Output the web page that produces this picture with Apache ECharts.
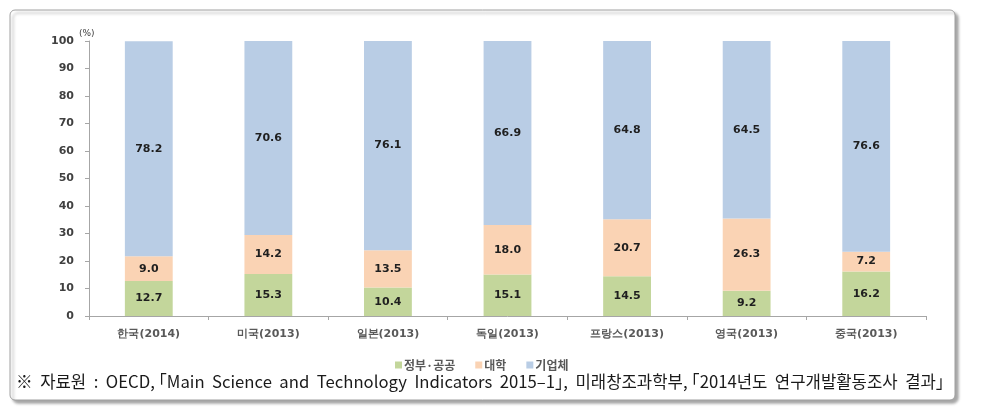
<!DOCTYPE html>
<html><head><meta charset="utf-8">
<script src="https://cdn.jsdelivr.net/npm/echarts@6/dist/echarts.min.js"></script>
<style>html,body{margin:0;padding:0;background:#fff}#c{width:981px;height:416px}</style>
</head><body><div id="c"></div>
<script>
const categories = ['한국(2014)','미국(2013)','일본(2013)','독일(2013)','프랑스(2013)','영국(2013)','중국(2013)'];
const govPublic = [12.7,15.3,10.4,15.1,14.5,9.2,16.2];
const university = [9.0,14.2,13.5,18.0,20.7,26.3,7.2];
const business = [78.2,70.6,76.1,66.9,64.8,64.5,76.6];
const seriesNames = ['정부·공공','대학','기업체'];
const yTicks = [0,10,20,30,40,50,60,70,80,90,100];
const footnote = '※  자료원  :  OECD, ｢Main  Science  and  Technology  Indicators  2015–1｣,  미래창조과학부, ｢2014년도  연구개발활동조사  결과｣';

const chart = echarts.init(document.getElementById('c'));
const lbl = {show:true, position:'inside', color:'#1f1f1f', fontSize:11, fontWeight:'bold', fontFamily:'DejaVu Sans', formatter:p=>p.value.toFixed(1)};
const colors = ['#C3D69B','#FAD3B4','#B9CDE5'];
const data = [govPublic, university, business];
chart.setOption({
  animation:false,
  graphic:[
    {type:'rect', shape:{x:10,y:10,width:945,height:390,r:5}, style:{fill:'#fff',stroke:'#a0a0a0',lineWidth:1,shadowColor:'rgba(0,0,0,0.35)',shadowBlur:3,shadowOffsetX:3,shadowOffsetY:3}, z:-10},
    {type:'text', left:16, top:373, style:{text:footnote, fontSize:16.7, fontFamily:'Noto Sans CJK KR', fill:'#1a1a1a'}},
    {type:'text', left:79, top:29, style:{text:'(%)', fontSize:9, fontFamily:'DejaVu Sans', fill:'#404040'}}
  ],
  grid:{left:89, right:55, top:41, bottom:100},
  legend:{top:354, left:390, itemWidth:7, itemHeight:7, itemGap:20, icon:'rect',
    textStyle:{fontSize:12, fontWeight:'bold', color:'#595959', fontFamily:'Noto Sans CJK KR', padding:[0,0,0,-3]},
    data:seriesNames},
  xAxis:{type:'category', data:categories,
    axisLine:{lineStyle:{color:'#a6a6a6'}},
    axisTick:{show:true, alignWithLabel:false, length:4, lineStyle:{color:'#a6a6a6'}},
    axisLabel:{color:'#595959', fontSize:11, fontWeight:'bold', fontFamily:'DejaVu Sans', margin:13}},
  yAxis:{type:'value', min:0, max:100, interval:10,
    axisLine:{show:true, lineStyle:{color:'#a6a6a6'}},
    axisTick:{show:true, length:4, lineStyle:{color:'#a6a6a6'}},
    splitLine:{show:false},
    axisLabel:{color:'#404040', fontSize:11, fontWeight:'bold', fontFamily:'DejaVu Sans', margin:15,
      formatter:v=>yTicks.includes(v)?String(v):''}},
  series: seriesNames.map((n,i)=>({name:n, type:'bar', stack:'t', barWidth:'40%', data:data[i],
    itemStyle:{color:colors[i]}, label:lbl}))
});
</script></body></html>
